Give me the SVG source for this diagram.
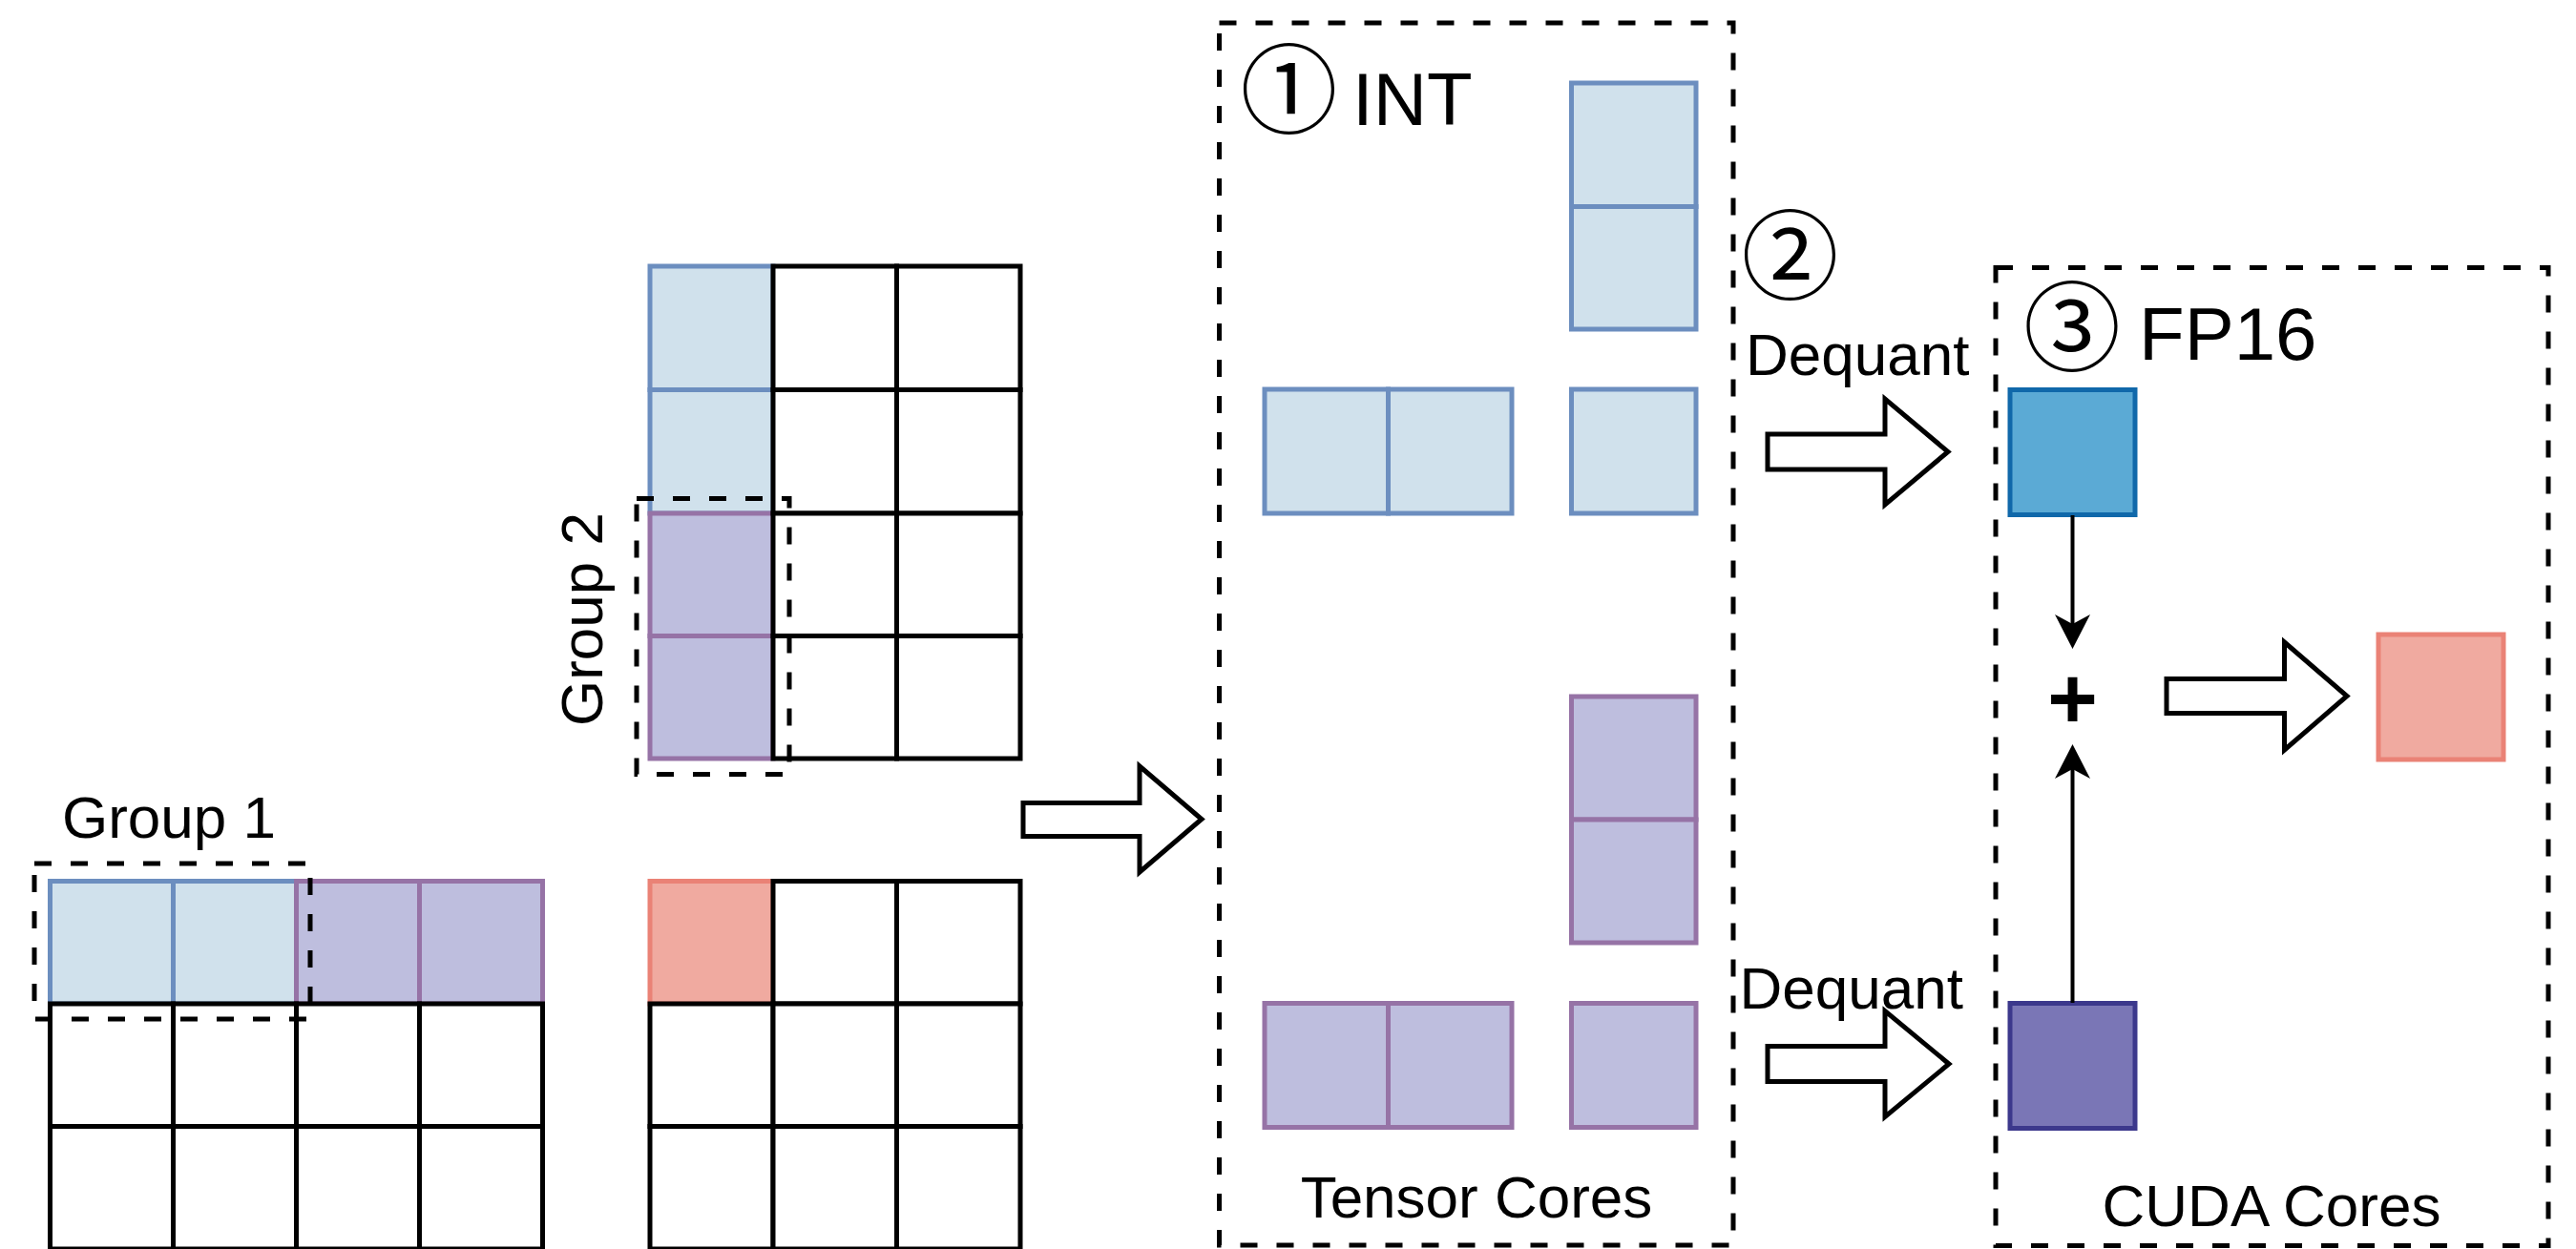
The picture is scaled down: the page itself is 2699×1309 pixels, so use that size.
<svg xmlns="http://www.w3.org/2000/svg" width="2699" height="1309" viewBox="0 0 2699 1309">
  <defs>
    <style>
      .txt { font-family: "Liberation Sans", Arial, Helvetica, sans-serif; fill: #000; }
      .lbl { font-size: 62px; }
      .big { font-size: 78px; }
      .circ { font-family: "Noto Sans CJK SC", "Noto Sans CJK JP", "DejaVu Sans", sans-serif; font-size: 102px; fill: #000; text-anchor: middle; }
      .cell { fill: #fff; stroke: #000; stroke-width: 5; }
      .blue { fill: #d0e1ec; stroke: #6c8ebf; stroke-width: 5; }
      .purple { fill: #bebede; stroke: #9673a6; stroke-width: 5; }
      .red { fill: #f0aaa0; stroke: #ea8276; stroke-width: 5; }
      .fpblue { fill: #5baad5; stroke: #1068aa; stroke-width: 5; }
      .fppurple { fill: #7a76b6; stroke: #3c388c; stroke-width: 5; }
      .dash { fill: none; stroke: #000; stroke-width: 5; stroke-dasharray: 18 20; }
      .block { fill: #fff; stroke: #000; stroke-width: 5; stroke-linejoin: miter; }
      .edge { fill: none; stroke: #000; stroke-width: 4; }
    </style>
    <marker id="head" markerUnits="userSpaceOnUse" markerWidth="40" markerHeight="40" refX="10" refY="18.5" orient="auto">
      <path d="M0,0 L36,18.5 L0,37 L10,18.5 Z" fill="#000"/>
    </marker>
  </defs>

  <rect width="2699" height="1309" fill="#fff"/>

  <!-- activation matrix: 3 rows x 4 columns, first row split into two groups -->
  <g id="matrix-a">
    <rect class="blue" x="52.5" y="923.5" width="129" height="128.5"/>
    <rect class="blue" x="181.5" y="923.5" width="129" height="128.5"/>
    <rect class="purple" x="310.5" y="923.5" width="129" height="128.5"/>
    <rect class="purple" x="439.5" y="923.5" width="129" height="128.5"/>
    <rect class="cell" x="52.5" y="1052" width="129" height="128.5"/>
    <rect class="cell" x="181.5" y="1052" width="129" height="128.5"/>
    <rect class="cell" x="310.5" y="1052" width="129" height="128.5"/>
    <rect class="cell" x="439.5" y="1052" width="129" height="128.5"/>
    <rect class="cell" x="52.5" y="1180.5" width="129" height="128.5"/>
    <rect class="cell" x="181.5" y="1180.5" width="129" height="128.5"/>
    <rect class="cell" x="310.5" y="1180.5" width="129" height="128.5"/>
    <rect class="cell" x="439.5" y="1180.5" width="129" height="128.5"/>
  </g>

  <!-- weight matrix: 4 rows x 3 columns, first column split into two groups -->
  <g id="matrix-b">
    <rect class="blue" x="681" y="279" width="129" height="129.5"/>
    <rect class="blue" x="681" y="408.5" width="129" height="129.5"/>
    <rect class="purple" x="681" y="538" width="129" height="128.5"/>
    <rect class="purple" x="681" y="666.5" width="129" height="128.5"/>
    <rect class="cell" x="810" y="279" width="129.5" height="129.5"/>
    <rect class="cell" x="939.5" y="279" width="129.5" height="129.5"/>
    <rect class="cell" x="810" y="408.5" width="129.5" height="129.5"/>
    <rect class="cell" x="939.5" y="408.5" width="129.5" height="129.5"/>
    <rect class="cell" x="810" y="538" width="129.5" height="128.5"/>
    <rect class="cell" x="939.5" y="538" width="129.5" height="128.5"/>
    <rect class="cell" x="810" y="666.5" width="129.5" height="128.5"/>
    <rect class="cell" x="939.5" y="666.5" width="129.5" height="128.5"/>
  </g>

  <!-- output matrix: 3 x 3 with the first element highlighted -->
  <g id="matrix-c">
    <rect class="red" x="681" y="923.5" width="129" height="128.5"/>
    <rect class="cell" x="810" y="923.5" width="129.5" height="128.5"/>
    <rect class="cell" x="939.5" y="923.5" width="129.5" height="128.5"/>
    <rect class="cell" x="681" y="1052" width="129" height="128.5"/>
    <rect class="cell" x="810" y="1052" width="129.5" height="128.5"/>
    <rect class="cell" x="939.5" y="1052" width="129.5" height="128.5"/>
    <rect class="cell" x="681" y="1180.5" width="129" height="128.5"/>
    <rect class="cell" x="810" y="1180.5" width="129.5" height="128.5"/>
    <rect class="cell" x="939.5" y="1180.5" width="129.5" height="128.5"/>
  </g>

  <g id="group-1">
    <rect class="dash" x="36" y="905" width="289" height="163"/>
    <text class="txt lbl" x="65" y="878">Group 1</text>
  </g>

  <g id="group-2">
    <rect class="dash" x="667" y="522.5" width="160" height="289"/>
    <text class="txt lbl" text-anchor="middle" transform="translate(631,649) rotate(-90)">Group 2</text>
  </g>

  <!-- integer stage on tensor cores -->
  <g id="tensor-cores">
    <rect class="dash" x="1277.5" y="24" width="538.5" height="1281"/>
    <text class="circ" x="1350.5" y="132">①</text>
    <text class="txt big" x="1417" y="130.5">INT</text>
    <rect class="blue" x="1646.5" y="87" width="130.5" height="129.5"/>
    <rect class="blue" x="1646.5" y="216.5" width="130.5" height="128.5"/>
    <rect class="blue" x="1325" y="408" width="129.5" height="130"/>
    <rect class="blue" x="1454.5" y="408" width="129.5" height="130"/>
    <rect class="blue" x="1646.5" y="408" width="130.5" height="130"/>
    <rect class="purple" x="1646.5" y="730" width="130.5" height="129"/>
    <rect class="purple" x="1646.5" y="859" width="130.5" height="129"/>
    <rect class="purple" x="1325" y="1051.5" width="129.5" height="130"/>
    <rect class="purple" x="1454.5" y="1051.5" width="129.5" height="130"/>
    <rect class="purple" x="1646.5" y="1051.5" width="130.5" height="130"/>
    <text class="txt lbl" text-anchor="middle" x="1547" y="1276">Tensor Cores</text>
  </g>

  <!-- dequantization step -->
  <g id="dequant">
    <text class="circ" x="1875.5" y="306">②</text>
    <text class="txt lbl" x="1829" y="393">Dequant</text>
    <text class="txt lbl" x="1822.5" y="1056.5">Dequant</text>
  </g>

  <!-- half precision stage on CUDA cores -->
  <g id="cuda-cores">
    <rect class="dash" x="2091" y="280.5" width="579" height="1025"/>
    <text class="circ" x="2171" y="381">③</text>
    <text class="txt big" x="2241" y="377">FP16</text>
    <rect class="fpblue" x="2106" y="408.5" width="131" height="131"/>
    <rect class="fppurple" x="2106" y="1051.5" width="131" height="131"/>
    <text class="txt" font-size="90" font-weight="bold" text-anchor="middle" x="2171.5" y="763">+</text>
    <rect class="red" x="2492" y="665" width="131" height="131"/>
    <text class="txt lbl" text-anchor="middle" x="2380" y="1284.5">CUDA Cores</text>
  </g>

  <g id="connectors">
    <path class="block" d="M1072,841.5 L1194,841.5 L1194,803 L1259,858.5 L1194,914 L1194,876.5 L1072,876.5 Z"/>
    <path class="block" d="M1852,455 L1975,455 L1975,418 L2041,473.5 L1975,529 L1975,492 L1852,492 Z"/>
    <path class="block" d="M1852,1096.5 L1975,1096.5 L1975,1059.5 L2042,1115 L1975,1170.5 L1975,1133.5 L1852,1133.5 Z"/>
    <path class="block" d="M2270,711.5 L2393.5,711.5 L2393.5,673 L2459,729.5 L2393.5,786 L2393.5,747.5 L2270,747.5 Z"/>
    <line class="edge" x1="2171.5" y1="540" x2="2171.5" y2="654" marker-end="url(#head)"/>
    <line class="edge" x1="2171.5" y1="1051" x2="2171.5" y2="806" marker-end="url(#head)"/>
  </g>
</svg>
